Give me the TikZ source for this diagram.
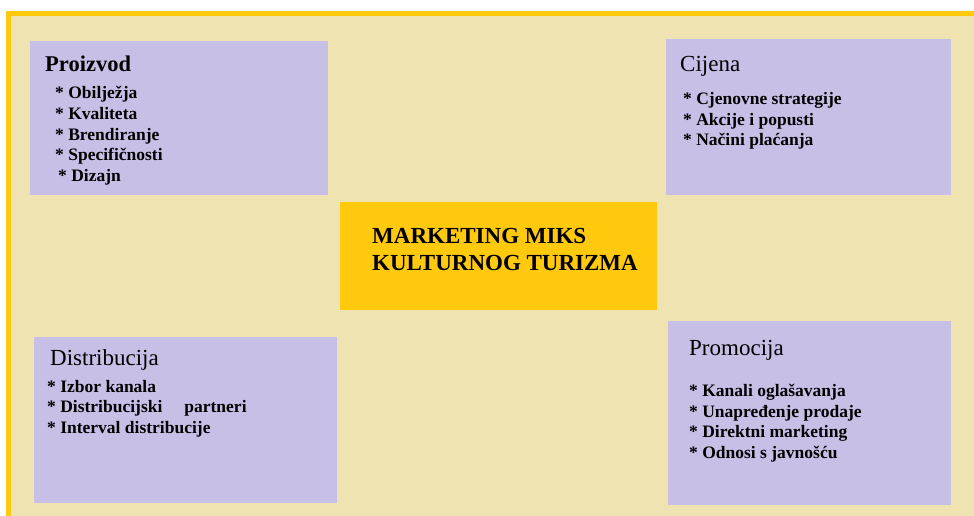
\documentclass[tikz,border=0pt]{standalone}
\usepackage{fontspec}
\setmainfont{Liberation Serif}
\definecolor{bgbeige}{RGB}{240,227,178}
\definecolor{ybord}{RGB}{255,201,14}
\definecolor{lilac}{RGB}{200,191,230}
\begin{document}
\begin{tikzpicture}[x=1pt,y=-1pt,
  panel/.style={fill=lilac, draw=none, anchor=north west, inner sep=0pt},
  ttl/.style={anchor=base west, inner sep=0pt, font=\fontsize{23}{26}\selectfont},
  items/.style={anchor=base west, inner sep=0pt, align=left, font=\fontsize{17.5}{20.5}\selectfont\bfseries},
  ]
\useasboundingbox (0,0) rectangle (974,516);
\fill[white] (0,0) rectangle (974,516);
\fill[ybord] (6,11) rectangle (974,516);
\fill[bgbeige] (11,16) rectangle (974,516);
% panels
\node[panel, minimum width=298pt, minimum height=154pt] (proizvod) at (30,41) {};
\node[panel, minimum width=285pt, minimum height=156pt] (cijena) at (666,39) {};
\node[panel, minimum width=303pt, minimum height=166pt] (distribucija) at (34,337) {};
\node[panel, minimum width=283pt, minimum height=184pt] (promocija) at (668,321) {};
\node[panel, fill=ybord, minimum width=317pt, minimum height=108pt] (centre) at (340,202) {};
% texts (anchor = baseline of the last line)
\node[ttl, font=\fontsize{22.5}{26}\selectfont\bfseries] (t1) at (45,72) {Proizvod};
\node[items] (i1) at (55,181) {* Obilježja\\* Kvaliteta\\* Brendiranje\\* Specifičnosti\\\hspace*{3pt}* Dizajn};
\node[ttl] (t2) at (680,72) {Cijena};
\node[items] (i2) at (683,146) {* Cjenovne strategije\\* Akcije i popusti\\* Načini plaćanja};
\node[ttl] (t3) at (50,365) {Distribucija};
\node[items] (i3) at (47,433) {* Izbor kanala\\* Distribucijski\hspace*{22pt}partneri\\* Interval distribucije};
\node[ttl] (t4) at (689,355) {Promocija};
\node[items] (i4) at (689,458) {* Kanali oglašavanja\\* Unapređenje prodaje\\* Direktni marketing\\* Odnosi s javnošću};
\node[anchor=base west, inner sep=0pt, align=left, font=\fontsize{23}{27}\selectfont\bfseries] (ct) at (372,270) {MARKETING MIKS\\KULTURNOG TURIZMA};
\end{tikzpicture}
\end{document}
